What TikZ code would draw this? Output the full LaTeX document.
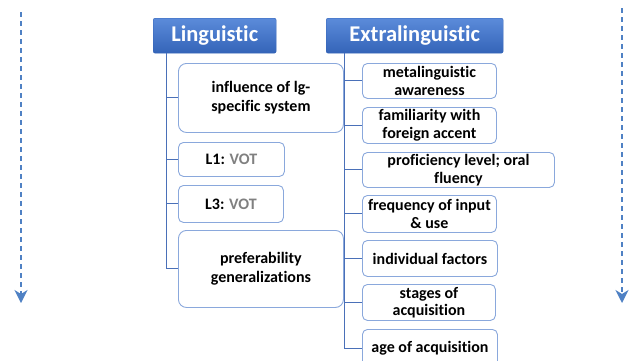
\documentclass[tikz,border=0pt]{standalone}
\usepackage{fontspec}
\setmainfont{Carlito}[Ligatures=NoCommon]
\usetikzlibrary{arrows.meta}

\definecolor{headtop}{HTML}{5B8BDA}
\definecolor{headbot}{HTML}{3464B8}
\definecolor{itemline}{HTML}{8AA8DC}
\definecolor{linkblue}{HTML}{4A70B8}
\definecolor{arrowblue}{HTML}{4F81C4}
\definecolor{vot}{HTML}{808080}

\tikzset{
  head/.style={rounded corners=2pt, top color=headtop, bottom color=headbot, draw=headbot,
    text=white, font=\fontsize{22.5}{26}\selectfont\bfseries, inner sep=0pt, anchor=north west},
  item/.style={draw=itemline, fill=white, rounded corners=5pt, line width=0.9pt,
    font=\fontsize{16}{17.5}\selectfont\bfseries, align=center, inner sep=0pt, anchor=north west},
  bigitem/.style={item, rounded corners=8pt, font=\fontsize{16}{19}\selectfont\bfseries},
  branch/.style={draw=linkblue, line width=1pt},
  timeline/.style={draw=arrowblue, line width=1.6pt, dash pattern=on 5pt off 4pt,
    -{Stealth[length=13pt,width=13pt,inset=4pt]}},
}

\begin{document}
\begin{tikzpicture}[x=1pt, y=-1pt]
    \clip (0,0) rectangle (634,360);
    % time arrows
    \coordinate (ltop) at (21,12);
    \coordinate (lbot) at (21,303);
    \coordinate (rtop) at (622,8);
    \coordinate (rbot) at (622,303);
    \draw[timeline] (ltop) -- (lbot);
    \draw[timeline] (rtop) -- (rbot);

    % headers
    \node[head, minimum width=123pt, minimum height=35pt] at (153,18) (ling) {Linguistic};
    \node[head, minimum width=177pt, minimum height=35pt] at (326,18) (extra) {Extralinguistic};
    \coordinate (lt) at (166,53);
    \coordinate (et) at (344,53);

    % linguistic items
    \node[bigitem, minimum width=165pt, minimum height=69pt] at (178,63) (infl) {influence of lg-\\specific system};
    \node[item, minimum width=106pt, minimum height=34pt] at (178,142) (l1) {L1: \textcolor{vot}{VOT}};
    \node[item, minimum width=105pt, minimum height=37pt] at (178,185) (l3) {L3: \textcolor{vot}{VOT}};
    \node[bigitem, minimum width=165pt, minimum height=77pt] at (178,230) (pref) {preferability\\generalizations};

    % extralinguistic items
    \node[item, minimum width=134pt, minimum height=35pt] at (362,63) (meta) {metalinguistic\\awareness};
    \node[item, minimum width=134pt, minimum height=36pt] at (362,107) (famil) {familiarity with\\foreign accent};
    \node[item, minimum width=192pt, minimum height=35pt] at (362,152) (prof) {proficiency level; oral\\fluency};
    \node[item, minimum width=134pt, minimum height=37pt] at (362,195) (freq) {frequency of input\\\& use};
    \node[item, minimum width=135pt, minimum height=36pt] at (362,240) (indiv) {individual factors};
    \node[item, minimum width=133pt, minimum height=36pt] at (362,284) (stage) {stages of\\acquisition};
    \node[item, minimum width=135pt, minimum height=37pt] at (362,329) (age) {age of acquisition};

    % linguistic connections
    \draw[branch] (lt) |- (infl.west);
    \draw[branch] (lt) |- (l1.west);
    \draw[branch] (lt) |- (l3.west);
    \draw[branch] (lt) |- (pref.west);
    % extralinguistic connections
    \draw[branch] (et) |- (meta.west);
    \draw[branch] (et) |- (famil.west);
    \draw[branch] (et) |- (prof.west);
    \draw[branch] (et) |- (freq.west);
    \draw[branch] (et) |- (indiv.west);
    \draw[branch] (et) |- (stage.west);
    \draw[branch] (et) |- ([yshift=-1pt]age.west);
\end{tikzpicture}
\end{document}
